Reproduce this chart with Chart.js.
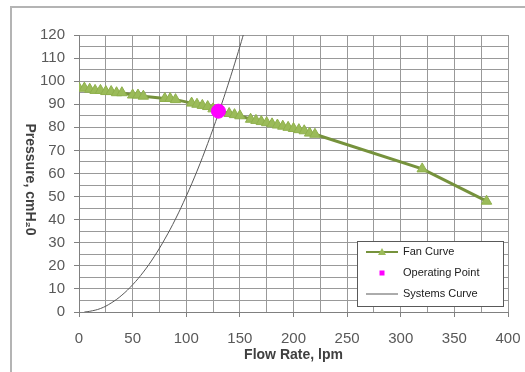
<!DOCTYPE html>
<html>
<head>
<meta charset="utf-8">
<script src="https://cdn.jsdelivr.net/npm/chart.js@4.4.1/dist/chart.umd.min.js"></script>
<style>
  html, body { margin: 0; padding: 0; background: #fff; }
  #wrap { width: 525px; height: 372px; position: relative; }
</style>
</head>
<body>
<div id="wrap"><canvas id="fanChart"></canvas></div>
<script>
// fan curve
var fanFlow = [0, 5, 10, 15, 20, 25, 30, 35, 40, 50, 55, 60, 80, 85, 90, 105, 110, 115, 120, 125,
               140, 145, 150, 160, 165, 170, 175, 180, 185, 190, 195, 200, 205, 210, 215, 220, 320, 380];
var fanPressure = [97, 97, 96.5, 96, 96, 95.5, 95.5, 95, 95, 94, 94, 93.5, 92.5, 92.5, 92, 90.5, 90, 89.5, 89, 88,
                   86, 85.5, 85, 83.5, 83, 82.5, 82, 81.5, 81, 80.5, 80, 79.5, 79, 78.5, 77.5, 77, 62, 48];

// operating point
var opFlow = [130];
var opPressure = [87];

// system curve
var sysFlow = [5, 10, 20, 30, 40, 50, 60, 70, 80, 90, 100, 110, 120, 130, 140, 150, 155];
var sysPressure = [0, 0.3, 1.5, 3.9, 7.3, 11.8, 17.3, 23.9, 31.6, 40.3, 50.2, 61, 73, 86, 100, 115, 123];

var xMin = 0, xMax = 400, xStep = 25, xLabelEvery = 50;
var yMin = 0, yMax = 120, yStep = 5, yLabelEvery = 10;

function pts(xs, ys) {
    return xs.map(function(x, i) { return { x: x, y: ys[i] }; });
}

// gray frame around the picture
var framePlugin = {
    id: 'frame',
    beforeDraw: function(chart) {
        var ctx = chart.ctx;
        ctx.save();
        ctx.fillStyle = '#fff';
        ctx.fillRect(0, 0, chart.width, chart.height);
        ctx.strokeStyle = '#b4b4b4';
        ctx.lineWidth = 2;
        ctx.beginPath();
        ctx.moveTo(11, chart.height);
        ctx.lineTo(11, 7);
        ctx.lineTo(chart.width, 7);
        ctx.stroke();
        ctx.restore();
    }
};

// y title reads top-to-bottom in the original
var yTitlePlugin = {
    id: 'yTitle',
    afterDraw: function(chart) {
        var ctx = chart.ctx, a = chart.chartArea;
        ctx.save();
        ctx.translate(30, (a.top + a.bottom) / 2 + 6);
        ctx.rotate(Math.PI / 2);
        ctx.fillStyle = '#404040';
        ctx.font = 'bold 14px "Liberation Sans", Arial, sans-serif';
        ctx.textAlign = 'center';
        ctx.textBaseline = 'middle';
        ctx.fillText('Pressure, cmH\u20820', 0, 0);
        ctx.restore();
    }
};

// boxed legend in the lower right of the plot
var legendPlugin = {
    id: 'boxLegend',
    afterDraw: function(chart) {
        var ctx = chart.ctx, a = chart.chartArea;
        var w = 146, h = 65;
        var x0 = a.right - 5 - w, y0 = a.bottom - 6 - h;
        ctx.save();
        ctx.fillStyle = '#fff';
        ctx.fillRect(x0, y0, w, h);
        ctx.strokeStyle = '#595959';
        ctx.lineWidth = 1;
        ctx.strokeRect(x0 + 0.5, y0 + 0.5, w, h);
        ctx.font = '11px "Liberation Sans", Arial, sans-serif';
        ctx.textBaseline = 'middle';
        chart.data.datasets.forEach(function(ds, i) {
            var cy = y0 + 11 + i * 21;
            var lx = x0 + 9, rx = x0 + 41;
            if (ds.showLine) {
                ctx.strokeStyle = ds.borderColor;
                ctx.lineWidth = Math.min(ds.borderWidth, 2);
                ctx.beginPath();
                ctx.moveTo(lx, cy);
                ctx.lineTo(rx, cy);
                ctx.stroke();
            }
            if (ds.pointRadius > 0) {
                ctx.fillStyle = ds.pointBackgroundColor;
                var cx = (lx + rx) / 2;
                if (ds.pointStyle === 'triangle') {
                    ctx.beginPath();
                    ctx.moveTo(cx, cy - 4);
                    ctx.lineTo(cx + 4, cy + 3);
                    ctx.lineTo(cx - 4, cy + 3);
                    ctx.closePath();
                    ctx.fill();
                } else {
                    ctx.fillRect(cx - 2.5, cy - 2.5, 5, 5);
                }
            }
            ctx.fillStyle = '#202020';
            ctx.fillText(ds.label, x0 + 46, cy);
        });
        ctx.restore();
    }
};

var ctx = document.getElementById('fanChart').getContext('2d');
var chart = new Chart(ctx, {
    type: 'scatter',
    data: {
        datasets: [
            {
                label: 'Fan Curve',
                data: pts(fanFlow, fanPressure),
                showLine: true,
                borderColor: '#76923c',
                borderWidth: 3,
                pointStyle: 'triangle',
                pointRadius: 6,
                pointBackgroundColor: '#9bbb59',
                pointBorderColor: '#8fb04c',
                pointBorderWidth: 1,
                tension: 0,
                order: 2
            },
            {
                label: 'Operating Point',
                data: pts(opFlow, opPressure),
                showLine: false,
                borderColor: '#ff00ff',
                pointRadius: 7,
                pointBackgroundColor: '#ff00ff',
                pointBorderColor: '#ff00ff',
                order: 0
            },
            {
                label: 'Systems Curve',
                data: pts(sysFlow, sysPressure),
                showLine: true,
                borderColor: '#595959',
                borderWidth: 1,
                pointRadius: 0,
                tension: 0.4,
                order: 1
            }
        ]
    },
    options: {
        responsive: true,
        maintainAspectRatio: false,
        animation: false,
        layout: { padding: { left: 40, top: 35, right: 17, bottom: 8 } },
        plugins: {
            legend: { display: false },
            tooltip: { enabled: false }
        },
        scales: {
            x: {
                type: 'linear',
                min: xMin,
                max: xMax,
                afterFit: function(s) { s.height = 52; s.paddingLeft = 0; s.paddingRight = 0; },
                border: { color: '#808080', width: 1 },
                grid: {
                    color: '#999999',
                    tickLength: 5,
                    tickColor: function(c) { return c.tick.value % xLabelEvery === 0 ? '#808080' : 'rgba(0,0,0,0)'; }
                },
                ticks: {
                    stepSize: xStep,
                    autoSkip: false,
                    maxRotation: 0,
                    padding: 13,
                    color: '#595959',
                    font: { family: '"Liberation Sans", Arial, sans-serif', size: 15 },
                    callback: function(v) { return v % xLabelEvery === 0 ? v : ''; }
                },
                title: {
                    display: true,
                    text: 'Flow Rate, lpm',
                    color: '#404040',
                    font: { family: '"Liberation Sans", Arial, sans-serif', size: 14, weight: 'bold' },
                    padding: { top: 2, bottom: 0 }
                }
            },
            y: {
                type: 'linear',
                min: yMin,
                max: yMax,
                afterFit: function(s) { s.width = 39; s.paddingTop = 0; s.paddingBottom = 0; },
                border: { color: '#808080', width: 1 },
                grid: {
                    color: '#999999',
                    tickLength: 5,
                    tickColor: function(c) { return c.tick.value % yLabelEvery === 0 ? '#808080' : 'rgba(0,0,0,0)'; }
                },
                ticks: {
                    stepSize: yStep,
                    autoSkip: false,
                    padding: 9,
                    color: '#595959',
                    font: { family: '"Liberation Sans", Arial, sans-serif', size: 15 },
                    callback: function(v) { return v % yLabelEvery === 0 ? v : ''; }
                }
            }
        }
    },
    plugins: [framePlugin, yTitlePlugin, legendPlugin]
});
</script>
</body>
</html>
